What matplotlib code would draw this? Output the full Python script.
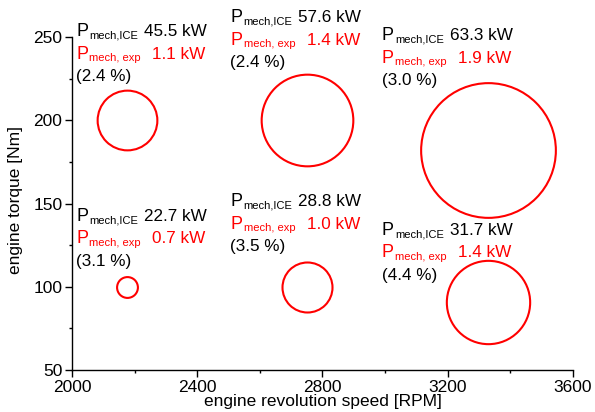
import matplotlib
matplotlib.use("Agg")
import matplotlib.pyplot as plt
from matplotlib.ticker import MultipleLocator

plt.rcParams['font.family'] = ['Liberation Sans', 'DejaVu Sans']

# operating points
speed_rpm = [2175, 2750, 3330, 2175, 2750, 3330]
torque_nm = [200, 200, 182, 100, 100, 91]
p_ice_kw = [45.5, 57.6, 63.3, 22.7, 28.8, 31.7]
p_exp_kw = [1.1, 1.4, 1.9, 0.7, 1.0, 1.4]
share_pct = [2.4, 2.4, 3.0, 3.1, 3.5, 4.4]
bubble_diam = [43, 66, 97, 15, 36, 60]  # marker diameter in points

# where each annotation block starts (left edge, first-line baseline)
label_x = [2013, 2506, 2989, 2013, 2506, 2989]
label_y = [250.6, 259.0, 248.2, 139.7, 148.5, 131.1]

RED = '#ff0000'
line_step = 16.2      # points between annotation lines
fs_p, fs_sub, fs_val = 13, 8, 12.3

fig = plt.figure(figsize=(5.95, 4.12), dpi=100)
ax = fig.add_axes([0.121, 0.102, 0.842, 0.808])

for x, y, d in zip(speed_rpm, torque_nm, bubble_diam):
    ax.plot([x], [y], marker='o', markersize=d, markerfacecolor='none',
            markeredgecolor=RED, markeredgewidth=1.5, linestyle='none',
            clip_on=False)


def put(text, anchor, dx, dy, size, color):
    ax.annotate(text, anchor, xytext=(dx, dy), textcoords='offset points',
                va='baseline', ha='left', fontsize=size, color=color,
                annotation_clip=False)


for lx, ly, pi, pe, sh in zip(label_x, label_y, p_ice_kw, p_exp_kw, share_pct):
    a = (lx, ly)
    # line 1: engine power
    put('P', a, 0, 0, fs_p, 'black')
    put('mech,ICE', a, 9.6, -2.0, fs_sub, 'black')
    put(f'{pi:.1f} kW', a, 49, 0, fs_val, 'black')
    # line 2: expander power
    put('P', a, 0, -line_step, fs_p, RED)
    put('mech, exp', a, 9.6, -line_step - 2.0, fs_sub, RED)
    put(f'{pe:.1f} kW', a, 55, -line_step, fs_val, RED)
    # line 3: share
    put(f'({sh:.1f} %)', a, 0, -2 * line_step, fs_val, 'black')

ax.set_xlim(2000, 3600)
ax.set_ylim(50, 250)
ax.xaxis.set_major_locator(MultipleLocator(400))
ax.xaxis.set_minor_locator(MultipleLocator(200))
ax.yaxis.set_major_locator(MultipleLocator(50))
ax.yaxis.set_minor_locator(MultipleLocator(25))

for side in ('top', 'right'):
    ax.spines[side].set_visible(False)
for side in ('left', 'bottom'):
    ax.spines[side].set_linewidth(1.0)

ax.tick_params(which='major', direction='out', length=5, width=1, labelsize=12.5, pad=2)
ax.tick_params(which='minor', direction='out', length=2.5, width=1)

fig.text(322.5 / 595, 1 - 406 / 412, 'engine revolution speed [RPM]',
         ha='center', va='baseline', fontsize=12.5)
fig.text(16 / 595, 1 - 200.5 / 412, 'engine torque [Nm]', rotation=90,
         ha='center', va='center', fontsize=12.5)

fig.savefig('out.png', dpi=100)
